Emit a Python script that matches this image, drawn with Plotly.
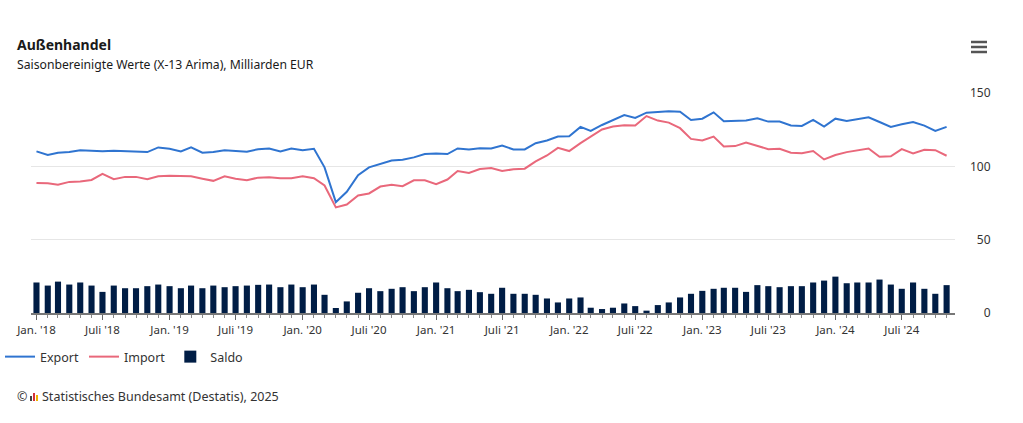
import pandas as pd
import plotly.graph_objects as go

# monthly values, Jan 2018 - Nov 2024 (Mrd. EUR, saisonbereinigt)
months = pd.date_range("2018-01-01", periods=83, freq="MS")

export = [
    110.2, 107.7, 109.3, 109.7, 111.0, 110.6, 110.2, 110.6, 110.2, 110.0, 109.7, 112.9,
    112.0, 110.2, 112.9, 109.3, 109.7, 111.0, 110.6, 110.0, 111.7, 112.2, 110.2, 112.2,
    111.0, 112.0, 99.3, 75.6, 82.6, 93.9, 99.3, 101.6, 104.0, 104.5, 106.1, 108.4,
    108.8, 108.4, 112.2, 111.5, 112.4, 112.2, 114.2, 111.5, 111.5, 115.8, 117.6, 120.3,
    120.5, 126.9, 124.2, 128.2, 131.4, 135.0, 133.0, 136.6, 137.0, 137.5, 137.2, 131.6,
    132.5, 136.8, 130.7, 131.2, 131.2, 132.7, 130.5, 130.5, 127.8, 127.5, 131.6, 127.1,
    132.5, 130.9, 132.0, 133.4, 130.2, 126.9, 128.7, 130.2, 127.8, 124.2, 126.9,
]

imports = [
    88.7, 88.5, 87.4, 89.4, 89.6, 90.7, 94.8, 91.2, 92.8, 92.8, 91.2, 93.2,
    93.5, 93.2, 93.2, 91.6, 90.1, 93.2, 91.6, 90.5, 92.3, 92.6, 91.9, 91.9,
    93.2, 91.9, 86.9, 72.0, 74.0, 80.1, 81.5, 86.2, 87.4, 86.5, 90.5, 90.5,
    87.8, 91.0, 96.8, 95.5, 98.2, 98.9, 96.8, 98.0, 98.4, 103.4, 107.4, 112.6,
    110.4, 115.8, 120.3, 125.1, 127.1, 128.0, 127.8, 134.3, 131.2, 129.8, 126.0, 118.7,
    117.6, 120.3, 113.5, 113.8, 116.3, 113.8, 111.7, 112.0, 109.3, 109.0, 110.4, 104.7,
    107.7, 109.7, 111.0, 112.2, 106.5, 106.8, 111.7, 108.8, 111.3, 111.0, 107.2,
]

saldo = [
    20.8, 18.7, 21.4, 19.4, 20.8, 18.7, 14.4, 18.7, 16.9, 16.9, 18.3, 19.4,
    18.3, 16.9, 18.7, 16.9, 18.7, 17.6, 18.3, 18.7, 19.2, 19.4, 17.6, 19.4,
    17.6, 19.4, 12.4, 3.4, 7.9, 13.8, 16.9, 14.9, 16.5, 17.6, 14.9, 17.6,
    20.8, 16.9, 14.9, 15.8, 14.2, 13.1, 17.2, 13.1, 13.1, 12.4, 9.9, 7.2,
    9.9, 10.6, 3.6, 2.7, 3.6, 6.5, 4.7, 1.6, 5.4, 7.2, 10.6, 13.1,
    15.1, 16.5, 17.2, 17.2, 14.4, 19.0, 18.3, 17.6, 18.3, 18.3, 20.8, 22.1,
    24.8, 20.3, 20.8, 20.8, 22.8, 19.4, 16.5, 20.8, 16.5, 13.1, 19.0,
]

tick_dates = pd.date_range("2018-01-01", "2024-07-01", freq="6MS")
tick_labels = [
    "Jan. '18", "Juli '18", "Jan. '19", "Juli '19", "Jan. '20", "Juli '20",
    "Jan. '21", "Juli '21", "Jan. '22", "Juli '22", "Jan. '23", "Juli '23",
    "Jan. '24", "Juli '24",
]

FONT = "Noto Sans"
TXT = "#333333"

# plot area in pixels, used for the decorations outside it
L, R, T, B = 31, 955, 93, 313
def px(x):
    return (x - L) / (R - L)
def py(y):
    return (B - y) / (B - T)

fig = go.Figure()

fig.add_trace(go.Bar(
    x=months, y=saldo, name="Saldo", legendrank=3,
    marker=dict(color="#001d45", line=dict(width=0)),
    width=0.55 * 30.44 * 86400000,
))
fig.add_trace(go.Scatter(
    x=months, y=export, name="Export", mode="lines", legendrank=1,
    line=dict(color="#2f74d0", width=2),
))
fig.add_trace(go.Scatter(
    x=months, y=imports, name="Import", mode="lines", legendrank=2,
    line=dict(color="#e9687b", width=2),
))

fig.update_layout(
    width=1023, height=423,
    margin=dict(l=L, r=1023 - R, t=T, b=423 - B),
    paper_bgcolor="white", plot_bgcolor="white",
    font=dict(family=FONT, size=12, color=TXT),
    showlegend=True,
    legend=dict(
        orientation="h",
        x=-0.003, xref="container", xanchor="left",
        y=(423 - 357) / 423, yref="container", yanchor="middle",
        font=dict(size=12.5, color=TXT),
        itemwidth=30,
    ),
    title=dict(
        text="<b>Außenhandel</b><br><span style='font-size:12.2px;font-weight:normal'>Saisonbereinigte Werte (X-13 Arima), Milliarden EUR</span>",
        x=17 / 1023, xanchor="left", xref="container",
        y=0.881, yanchor="bottom", yref="container",
        font=dict(family=FONT, size=14, color="#1a1a1a"),
    ),
)

fig.update_xaxes(
    type="date", automargin=False,
    range=["2017-12-17", "2024-11-24"],
    tickvals=tick_dates, ticktext=tick_labels,
    ticks="outside", ticklen=5, tickcolor="#666666", tickwidth=1,
    minor=dict(ticks="outside", dtick="M1", tick0="2018-01-01", ticklen=3, tickcolor="#888888", showgrid=False),
    showline=True, linecolor="#777777", linewidth=1.5,
    showgrid=False, zeroline=False,
    tickfont=dict(size=11.5, color=TXT),
)

fig.update_yaxes(
    side="right", range=[0, 150], automargin=False,
    tickvals=[0, 50, 100, 150],
    ticktext=["\u2007\u20070", "\u200750", "100", "150"],
    showgrid=True, gridcolor="#e6e6e6", gridwidth=1,
    zeroline=False, showline=False, ticks="",
    tickfont=dict(size=12, color=TXT),
    ticklabelstandoff=14,
)

# menu icon
for yy in (42, 47, 52):
    fig.add_shape(
        type="line", xref="paper", yref="paper",
        x0=px(971), x1=px(987), y0=py(yy), y1=py(yy),
        line=dict(color="#555555", width=2.5),
    )

# source line
fig.add_annotation(
    text="©", xref="paper", yref="paper",
    x=px(15), y=py(396), xanchor="left", yanchor="middle",
    showarrow=False, font=dict(size=12.5, color=TXT),
)
for x0, h, col in ((30, 5, "#444444"), (33, 8, "#d4323a"), (36, 6, "#f0b400")):
    fig.add_shape(
        type="rect", xref="paper", yref="paper",
        x0=px(x0), x1=px(x0 + 2), y0=py(401), y1=py(401 - h),
        fillcolor=col, line=dict(width=0),
    )
fig.add_annotation(
    text="Statistisches Bundesamt (Destatis), 2025", xref="paper", yref="paper",
    x=px(40), y=py(396), xanchor="left", yanchor="middle",
    showarrow=False, font=dict(size=12.5, color=TXT),
)

fig.write_html(
    "out.html",
    config={"displayModeBar": False},
    post_script="document.body.style.margin='0';",
)
